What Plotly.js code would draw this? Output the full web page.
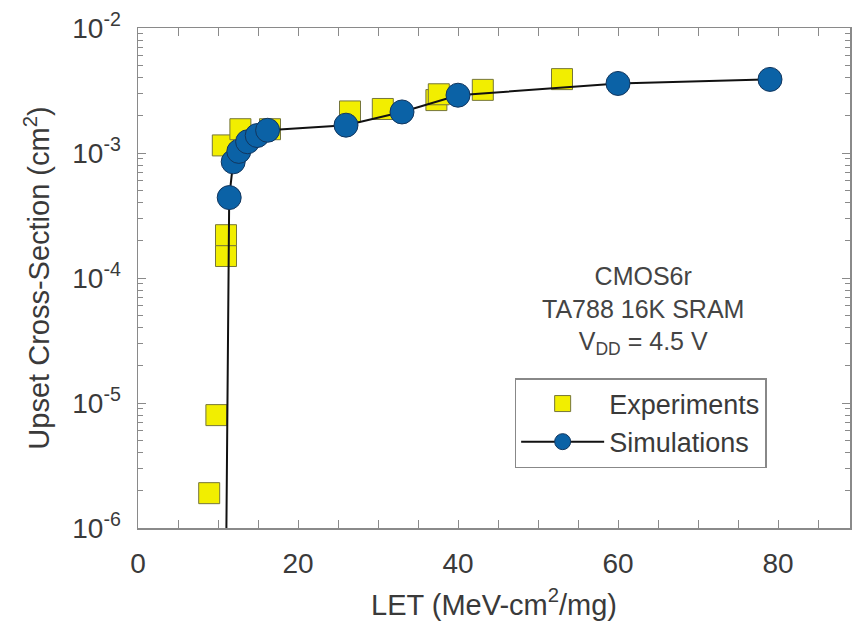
<!DOCTYPE html>
<html>
<head>
<meta charset="utf-8">
<script src="https://cdn.plot.ly/plotly-3.0.1.min.js"></script>
<style>html,body{margin:0;padding:0;background:#fff;}#chart{width:852px;height:635px;}</style>
</head>
<body>
<div id="chart"></div>
<script>
// Experiments (yellow squares)
var expLET = [8.9, 9.8, 11.0, 11.0, 10.6, 12.8, 16.5, 26.5, 30.6, 37.3, 37.6, 43.1, 53.0];
var expSigma = [1.9e-6, 8.0e-6, 1.5e-4, 2.2e-4, 1.15e-3, 1.55e-3, 1.55e-3, 2.15e-3, 2.25e-3, 2.65e-3, 2.95e-3, 3.2e-3, 3.9e-3];
// Simulations (blue circles + line); first point is the line start without marker
var simLET = [11.05, 11.4, 11.9, 12.6, 13.7, 14.9, 16.2, 26.0, 33.0, 40.0, 60.0, 79.0];
var simSigma = [1.0e-6, 4.4e-4, 8.5e-4, 1.03e-3, 1.23e-3, 1.38e-3, 1.52e-3, 1.67e-3, 2.13e-3, 2.9e-3, 3.6e-3, 3.88e-3];
var simMarkerShown = [false, true, true, true, true, true, true, true, true, true, true, true];

var yTickVals = [1e-6, 1e-5, 1e-4, 1e-3, 1e-2];
var yTickText = ['10<sup>-6</sup>', '10<sup>-5</sup>', '10<sup>-4</sup>', '10<sup>-3</sup>', '10<sup>-2</sup>'];
var xTickVals = [0, 20, 40, 60, 80];
var xTickText = ['0', '20', '40', '60', '80'];

var yMinor = [];
for (var d = -6; d < -2; d++) {
  for (var m = 2; m <= 9; m++) yMinor.push(m * Math.pow(10, d));
}

var FONT = 'Liberation Sans, Arial, sans-serif';
var GREY = '#8a8a8a';
var TXT = '#3a3a3a';

var traces = [
  {
    type: 'scatter', mode: 'markers', name: 'Experiments',
    x: expLET, y: expSigma,
    marker: {symbol: 'square', size: 21, color: '#f2ee00', opacity: 1, line: {color: '#76763a', width: 1}},
    cliponaxis: false
  },
  {
    type: 'scatter', mode: 'lines+markers', name: 'Simulations',
    x: simLET, y: simSigma,
    line: {color: '#111', width: 2},
    marker: {symbol: 'circle', size: simMarkerShown.map(function(s){return s ? 24 : 0;}), opacity: 1,
             color: '#0b62a6', line: {color: '#12365e', width: 1}},
    cliponaxis: false
  }
];

var layout = {
  width: 852, height: 635,
  margin: {l: 138, r: 2, t: 28, b: 107},
  paper_bgcolor: '#fff', plot_bgcolor: '#fff',
  font: {family: FONT, color: TXT, size: 27},
  showlegend: true,
  legend: {
    x: 0.529, y: 0.300, xanchor: 'left', yanchor: 'top',
    bordercolor: '#888', borderwidth: 1.5, bgcolor: '#fff',
    font: {family: FONT, size: 27, color: TXT},
    itemwidth: 83, tracegroupgap: 0
  },
  xaxis: {
    range: [0, 89], showgrid: false, zeroline: false,
    showline: true, linecolor: GREY, linewidth: 1.5, mirror: 'ticks',
    ticks: 'inside', ticklen: 8, tickcolor: GREY, tickwidth: 1,
    tickmode: 'array', tickvals: xTickVals, ticktext: xTickText,
    tickfont: {size: 28, color: TXT}, ticklabelstandoff: 10,
    minor: {dtick: 5, ticks: 'inside', ticklen: 8, tickcolor: GREY, tickwidth: 1, showgrid: false},
    title: {text: 'LET (MeV-cm<sup>2</sup>/mg)', font: {size: 29, color: TXT}, standoff: 16}
  },
  yaxis: {
    type: 'log', range: [-6, -2], showgrid: false, zeroline: false,
    showline: true, linecolor: GREY, linewidth: 1.5, mirror: 'ticks',
    ticks: 'inside', ticklen: 8, tickcolor: GREY, tickwidth: 1,
    tickmode: 'array', tickvals: yTickVals, ticktext: yTickText,
    tickfont: {size: 28, color: TXT}, ticklabelstandoff: 10,
    minor: {tickmode: 'array', tickvals: yMinor, ticks: 'inside', ticklen: 5, tickcolor: GREY, tickwidth: 1, showgrid: false},
    title: {text: 'Upset Cross-Section (cm<sup>2</sup>)', font: {size: 29, color: TXT}, standoff: 14}
  },
  annotations: [{
    xref: 'paper', yref: 'paper', x: 0.709, y: 0.536, xanchor: 'center', yanchor: 'top',
    text: 'CMOS6r<br>TA788 16K SRAM<br>V<sub>DD</sub> = 4.5 V',
    showarrow: false, align: 'center',
    font: {family: FONT, size: 25, color: '#444'}
  }]
};

Plotly.newPlot('chart', traces, layout, {displayModeBar: false, staticPlot: true});
</script>
</body>
</html>
